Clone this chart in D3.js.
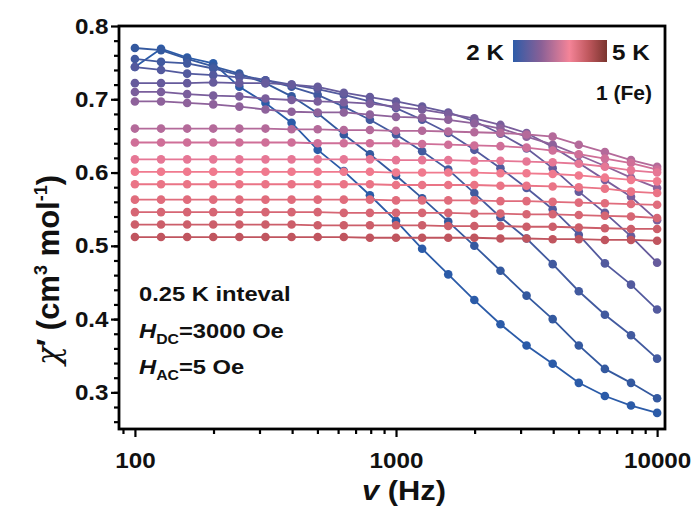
<!DOCTYPE html>
<html>
<head>
<meta charset="utf-8">
<script src="https://cdn.jsdelivr.net/npm/d3@7"></script>
<style>
  html, body { margin: 0; padding: 0; background: #fff; }
  svg { display: block; }
  text { font-family: "Liberation Sans", Arial, sans-serif; font-weight: bold; fill: #111; }
</style>
</head>
<body>
<svg id="chart" width="696" height="508"></svg>
<script>
// AC frequencies (Hz)
const freqs = [100, 125.9, 158.5, 199.5, 251.2, 316.2, 398.1, 501.2, 631, 794.3, 1000,
               1259, 1585, 1995, 2512, 3162, 3981, 5012, 6310, 7943, 10000];

// In-phase susceptibility, one row per temperature (lowest first)
const chiT1  = [0.744, 0.769, 0.757, 0.749, 0.717, 0.695, 0.668, 0.631, 0.602, 0.569, 0.534, 0.496, 0.461, 0.426, 0.393, 0.364, 0.339, 0.313, 0.295, 0.282, 0.272];
const chiT2  = [0.770, 0.767, 0.755, 0.745, 0.735, 0.722, 0.704, 0.681, 0.652, 0.625, 0.596, 0.565, 0.533, 0.500, 0.466, 0.432, 0.400, 0.364, 0.332, 0.313, 0.292];
const chiT3  = [0.755, 0.751, 0.749, 0.742, 0.733, 0.726, 0.717, 0.706, 0.690, 0.672, 0.652, 0.629, 0.604, 0.572, 0.539, 0.510, 0.475, 0.438, 0.406, 0.378, 0.346];
const chiT4  = [0.744, 0.740, 0.735, 0.733, 0.730, 0.726, 0.720, 0.714, 0.706, 0.697, 0.688, 0.672, 0.654, 0.631, 0.606, 0.579, 0.550, 0.515, 0.476, 0.447, 0.413];
const chiT5  = [0.722, 0.722, 0.722, 0.723, 0.722, 0.722, 0.720, 0.717, 0.709, 0.703, 0.697, 0.690, 0.682, 0.670, 0.653, 0.633, 0.606, 0.574, 0.545, 0.513, 0.477];
const chiT6  = [0.710, 0.710, 0.707, 0.705, 0.704, 0.701, 0.699, 0.697, 0.696, 0.694, 0.690, 0.686, 0.680, 0.674, 0.665, 0.654, 0.635, 0.613, 0.590, 0.567, 0.535];
const chiT7  = [0.697, 0.697, 0.695, 0.693, 0.690, 0.686, 0.683, 0.682, 0.682, 0.679, 0.676, 0.675, 0.672, 0.667, 0.660, 0.649, 0.638, 0.624, 0.609, 0.593, 0.579];
const chiT8  = [0.660, 0.660, 0.660, 0.660, 0.660, 0.660, 0.659, 0.659, 0.658, 0.658, 0.657, 0.657, 0.656, 0.655, 0.654, 0.652, 0.649, 0.638, 0.628, 0.617, 0.608];
const chiT9  = [0.641, 0.641, 0.641, 0.641, 0.641, 0.641, 0.641, 0.640, 0.640, 0.640, 0.640, 0.639, 0.638, 0.637, 0.636, 0.634, 0.630, 0.625, 0.619, 0.613, 0.604];
const chiT10 = [0.618, 0.618, 0.618, 0.618, 0.618, 0.618, 0.618, 0.618, 0.618, 0.618, 0.617, 0.617, 0.617, 0.616, 0.616, 0.615, 0.614, 0.612, 0.608, 0.603, 0.600];
const chiT11 = [0.601, 0.601, 0.601, 0.601, 0.601, 0.601, 0.601, 0.601, 0.601, 0.601, 0.600, 0.600, 0.600, 0.600, 0.599, 0.599, 0.598, 0.596, 0.593, 0.590, 0.588];
const chiT12 = [0.584, 0.584, 0.584, 0.584, 0.584, 0.584, 0.584, 0.584, 0.584, 0.584, 0.583, 0.583, 0.583, 0.583, 0.582, 0.582, 0.581, 0.580, 0.578, 0.574, 0.572];
const chiT13 = [0.563, 0.563, 0.563, 0.563, 0.563, 0.563, 0.563, 0.563, 0.563, 0.563, 0.562, 0.562, 0.562, 0.562, 0.561, 0.561, 0.560, 0.559, 0.558, 0.557, 0.556];
const chiT14 = [0.546, 0.546, 0.546, 0.546, 0.546, 0.546, 0.546, 0.546, 0.545, 0.545, 0.545, 0.545, 0.545, 0.544, 0.544, 0.543, 0.543, 0.542, 0.541, 0.540, 0.538];
const chiT15 = [0.529, 0.529, 0.529, 0.529, 0.529, 0.529, 0.529, 0.528, 0.528, 0.528, 0.528, 0.528, 0.527, 0.527, 0.527, 0.526, 0.526, 0.525, 0.524, 0.523, 0.523];
const chiT16 = [0.512, 0.512, 0.512, 0.512, 0.512, 0.512, 0.512, 0.512, 0.512, 0.511, 0.511, 0.511, 0.511, 0.511, 0.510, 0.510, 0.509, 0.509, 0.508, 0.508, 0.507];

const seriesValues = [chiT1, chiT2, chiT3, chiT4, chiT5, chiT6, chiT7, chiT8,
                      chiT9, chiT10, chiT11, chiT12, chiT13, chiT14, chiT15, chiT16];

// Colour of each temperature curve, cold (blue) to warm (red)
const seriesColors = ["#2b5ba8", "#34599f", "#425a9f", "#535a9e", "#665b9c", "#7a5e9c", "#8e629b", "#b46a9a",
                      "#cf6f98", "#e67795", "#f07a8e", "#ea7486", "#e06c7c", "#d66674", "#cc5e6a", "#c0555f"];

const yTicks = [0.3, 0.4, 0.5, 0.6, 0.7, 0.8];
const xTicks = [100, 1000, 10000];
const xMinorTicks = [90, 200, 300, 400, 500, 600, 700, 800, 900,
                     2000, 3000, 4000, 5000, 6000, 7000, 8000, 9000];

const svg = d3.select("#chart");
const plot = { left: 119, right: 665, top: 26, bottom: 429 };

const x = d3.scaleLog().domain([86.9, 10720]).range([plot.left, plot.right]);
const y = d3.scaleLinear().domain([0.25, 0.8]).range([plot.bottom, plot.top]);

// Curves with markers
const line = d3.line().x((d, i) => x(freqs[i])).y(d => y(d));
const curves = svg.append("g");
seriesValues.forEach((vals, s) => {
  const g = curves.append("g");
  g.append("path").attr("d", line(vals)).attr("fill", "none")
    .attr("stroke", seriesColors[s]).attr("stroke-width", 1.8);
  g.selectAll("circle").data(vals).join("circle")
    .attr("cx", (d, i) => x(freqs[i])).attr("cy", d => y(d)).attr("r", 4.3)
    .attr("fill", seriesColors[s]);
});

// Frame
svg.append("rect").attr("x", plot.left).attr("y", plot.top)
  .attr("width", plot.right - plot.left).attr("height", plot.bottom - plot.top)
  .attr("fill", "none").attr("stroke", "#000").attr("stroke-width", 2.8);

// Y axis: labelled majors, minor ticks every 0.02
const gy = svg.append("g").attr("transform", `translate(${plot.left},0)`)
  .call(d3.axisLeft(y).tickValues(yTicks).tickFormat(d3.format(".1f")).tickSize(8).tickPadding(1.5));
svg.append("g").attr("transform", `translate(${plot.left},0)`)
  .call(d3.axisLeft(y).tickValues(d3.range(0.26, 0.8, 0.02)).tickFormat("").tickSize(5));
gy.selectAll(".tick text").style("font-size", "22px").attr("transform", "scale(1.1,1)");

// X axis: labelled decades, log minor ticks
const gx = svg.append("g").attr("transform", `translate(0,${plot.bottom})`)
  .call(d3.axisBottom(x).tickValues(xTicks).tickFormat(d3.format("d")).tickSize(8).tickPadding(15));
svg.append("g").attr("transform", `translate(0,${plot.bottom})`)
  .call(d3.axisBottom(x).tickValues(xMinorTicks).tickFormat("").tickSize(5));
gx.selectAll(".tick text").style("font-size", "22px").attr("transform", "scale(1.1,1)");

svg.selectAll(".domain").remove();
svg.selectAll(".tick line").attr("stroke", "#000").attr("stroke-width", 2.2);
svg.selectAll(".tick text").attr("fill", "#111");

// Axis titles
const yTitle = svg.append("text")
  .attr("transform", `translate(59,270) rotate(-90)`)
  .attr("text-anchor", "middle").style("font-size", "31px");
yTitle.append("tspan").style("font-family", "'DejaVu Serif', serif").style("font-style", "italic").style("font-weight", "normal").text("χ");
yTitle.append("tspan").text("′ (cm");
yTitle.append("tspan").attr("dy", -12).style("font-size", "18px").text("3");
yTitle.append("tspan").attr("dy", 12).text(" mol");
yTitle.append("tspan").attr("dy", -12).style("font-size", "18px").text("-1");
yTitle.append("tspan").attr("dy", 12).text(")");

const xTitle = svg.append("text")
  .attr("transform", "translate(404,500) scale(1.1,1)")
  .attr("text-anchor", "middle").style("font-size", "28px");
xTitle.append("tspan").style("font-style", "italic").text("v");
xTitle.append("tspan").text(" (Hz)");

// Temperature colour bar
const grad = svg.append("defs").append("linearGradient").attr("id", "tempGrad");
[["0%", "#2e5ca8"], ["30%", "#8a6096"], ["60%", "#f48498"], ["80%", "#c0585e"], ["100%", "#7a342e"]]
  .forEach(([o, c]) => grad.append("stop").attr("offset", o).attr("stop-color", c));
svg.append("rect").attr("x", 513).attr("y", 40).attr("width", 94).attr("height", 22)
  .attr("fill", "url(#tempGrad)");
svg.append("text").attr("transform", "translate(504,60) scale(1.1,1)").attr("text-anchor", "end")
  .style("font-size", "22px").text("2 K");
svg.append("text").attr("transform", "translate(612,60) scale(1.1,1)")
  .style("font-size", "22px").text("5 K");
svg.append("text").attr("x", 652).attr("y", 100).attr("text-anchor", "end")
  .style("font-size", "21px").text("1 (Fe)");

// Measurement conditions
const notes = svg.append("g").style("font-size", "21px");
notes.append("text").attr("transform", "translate(139,301) scale(1.13,1)").text("0.25 K inteval");
const hdc = notes.append("text").attr("transform", "translate(139,338) scale(1.13,1)");
hdc.append("tspan").style("font-style", "italic").text("H");
hdc.append("tspan").attr("dy", 6).style("font-size", "14px").text("DC");
hdc.append("tspan").attr("dy", -6).text("=3000 Oe");
const hac = notes.append("text").attr("transform", "translate(139,374) scale(1.13,1)");
hac.append("tspan").style("font-style", "italic").text("H");
hac.append("tspan").attr("dy", 6).style("font-size", "14px").text("AC");
hac.append("tspan").attr("dy", -6).text("=5 Oe");
</script>
</body>
</html>
